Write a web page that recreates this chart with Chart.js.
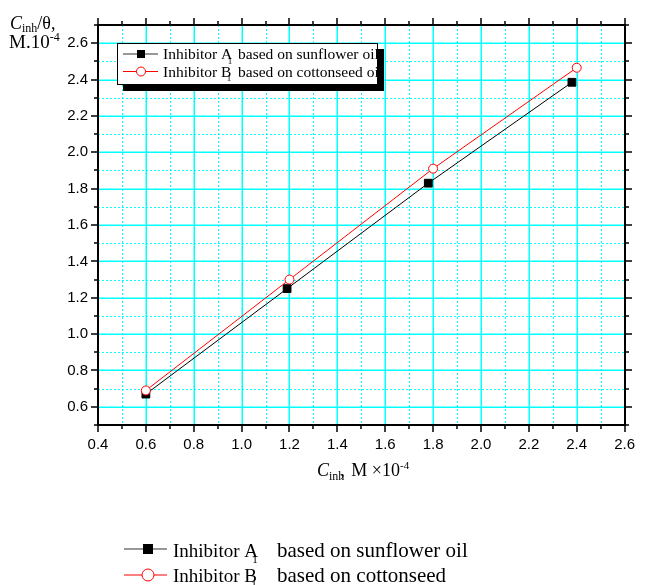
<!DOCTYPE html>
<html><head><meta charset="utf-8">
<script src="https://cdn.jsdelivr.net/npm/chart.js@4.4.0/dist/chart.umd.min.js"></script>
<style>html,body{margin:0;padding:0;background:#fff}#wrap{width:646px;height:585px}</style>
</head><body><div id="wrap"><canvas id="c" width="646" height="585"></canvas></div>
<script>
// values: C_inh (M x10^-4) vs C_inh/theta
const xTicks = [0.4, 0.6, 0.8, 1.0, 1.2, 1.4, 1.6, 1.8, 2.0, 2.2, 2.4, 2.6];
const yTicks = [0.6, 0.8, 1.0, 1.2, 1.4, 1.6, 1.8, 2.0, 2.2, 2.4, 2.6];
const concA = [0.6, 1.19, 1.78, 2.38];
const valA  = [0.67, 1.25, 1.83, 2.385];
const concB = [0.6, 1.2, 1.8, 2.4];
const valB  = [0.69, 1.30, 1.91, 2.465];
const boxTails = ['based on sunflower oil', 'based on cottonseed oil'];
const bottomTails = ['based on sunflower oil', 'based on cottonseed'];
const letters = ['A', 'B'];

const SERIF = 'Liberation Serif', SANS = 'Liberation Sans';

function runs(ctx, x, y, parts){
  for(const p of parts){
    ctx.font = p.f;
    x += (p.dx||0);
    ctx.fillText(p.t, x, y + (p.dy||0));
    x += ctx.measureText(p.t).width;
  }
  return x;
}
function marker(ctx, i, cx, cy, s){
  ctx.save();
  if(i===0){ ctx.fillStyle='#000'; ctx.fillRect(cx-s/2, cy-s/2, s, s); }
  else { ctx.beginPath(); ctx.arc(cx, cy, s/2, 0, Math.PI*2); ctx.fillStyle='#fff'; ctx.fill();
    ctx.strokeStyle='#f00'; ctx.lineWidth=1; ctx.stroke(); }
  ctx.restore();
}
// one legend row: line sample + marker, "Inhibitor X" with a stray subscript 1, then the tail text
function legendRow(ctx, i, o){
  ctx.strokeStyle = i===0 ? '#333' : '#f00'; ctx.lineWidth=1.2;
  ctx.beginPath(); ctx.moveTo(o.x0, o.ly); ctx.lineTo(o.x1, o.ly); ctx.stroke();
  marker(ctx, i, o.mx, o.ly, o.ms);
  ctx.fillStyle='#000';
  ctx.font = o.hs+'px '+SERIF;
  const head = 'Inhibitor '+letters[i];
  ctx.fillText(head, o.tx, o.base);
  const endA = o.tx + ctx.measureText(head).width;
  ctx.font = Math.round(o.hs*0.6)+'px '+SERIF;
  ctx.fillText('1', endA-o.hs*0.3, o.base+o.hs*0.3);
  ctx.font = o.ts+'px '+SERIF;
  ctx.fillText(o.tails[i], o.tailX, o.base);
}

const frame = {
  id:'frame',
  beforeDatasetsDraw(chart){
    const {ctx, chartArea:a, scales:{x, y}} = chart;
    ctx.save();
    ctx.strokeStyle='#00ffff';
    ctx.lineWidth=1; ctx.setLineDash([2,2]);
    for(let k=5;k<=25;k+=2){
      const px=Math.round(x.getPixelForValue(k/10))+0.5;
      ctx.beginPath(); ctx.moveTo(px,a.top); ctx.lineTo(px,a.bottom); ctx.stroke();
    }
    for(let k=7;k<=25;k+=2){
      const py=Math.round(y.getPixelForValue(k/10))+0.5;
      ctx.beginPath(); ctx.moveTo(a.left,py); ctx.lineTo(a.right,py); ctx.stroke();
    }
    ctx.setLineDash([]); ctx.lineWidth=1.5;
    xTicks.slice(1,-1).forEach(v=>{
      const px=Math.round(x.getPixelForValue(v))+0.25;
      ctx.beginPath(); ctx.moveTo(px,a.top); ctx.lineTo(px,a.bottom); ctx.stroke();
    });
    yTicks.forEach(v=>{
      const py=Math.round(y.getPixelForValue(v))+0.25;
      ctx.beginPath(); ctx.moveTo(a.left,py); ctx.lineTo(a.right,py); ctx.stroke();
    });
    ctx.restore();
  },
  afterDatasetsDraw(chart){
    const {ctx, chartArea:a, scales:{x, y}} = chart;
    ctx.save();
    ctx.strokeStyle='#000'; ctx.lineWidth=2;
    const L=Math.round(a.left), R=Math.round(a.right), T=Math.round(a.top), B=Math.round(a.bottom);
    ctx.strokeRect(L, T, R-L, B-T);
    ctx.lineWidth=1.5;
    for(let k=4;k<=26;k++){
      const px=Math.round(x.getPixelForValue(k/10)), len=k%2===0?7:4;
      ctx.beginPath(); ctx.moveTo(px,B); ctx.lineTo(px,B+len); ctx.moveTo(px,T); ctx.lineTo(px,T-len); ctx.stroke();
    }
    for(let k=5;k<=27;k++){
      const py=Math.round(y.getPixelForValue(k/10)), len=k%2===0?7:4;
      ctx.beginPath(); ctx.moveTo(L,py); ctx.lineTo(L-len,py); ctx.moveTo(R,py); ctx.lineTo(R+len,py); ctx.stroke();
    }
    // inset legend with drop shadow
    ctx.fillStyle='#000'; ctx.fillRect(123, 49, 261, 42);
    ctx.fillStyle='#fff'; ctx.fillRect(117, 43, 260, 41);
    ctx.lineWidth=1; ctx.strokeStyle='#000'; ctx.strokeRect(117.5, 43.5, 260, 41);
    ctx.save();
    ctx.beginPath(); ctx.rect(118, 44, 259, 39); ctx.clip();
    const box = {x0:123, x1:158, mx:141, tx:163, hs:15.5, ts:15.5, tailX:238, tails:boxTails};
    legendRow(ctx, 0, Object.assign({ly:54, base:59, ms:8}, box));
    legendRow(ctx, 1, Object.assign({ly:71.5, base:76.5, ms:9}, box));
    ctx.restore();
    ctx.restore();
  },
  afterDraw(chart){
    const ctx = chart.ctx;
    ctx.save();
    ctx.fillStyle='#000'; ctx.textBaseline='alphabetic'; ctx.textAlign='left';
    runs(ctx, 10, 29, [{t:'C',f:'italic 18px '+SERIF},{t:'inh',f:'12px '+SERIF,dy:3},{t:'/θ,',f:'18px '+SERIF}]);
    runs(ctx, 9, 48, [{t:'M.10',f:'19px '+SERIF},{t:'-4',f:'12px '+SERIF,dy:-7}]);
    runs(ctx, 317, 476, [{t:'C',f:'italic 18px '+SERIF},{t:'inh',f:'12px '+SERIF,dy:4},{t:',',f:'18px '+SERIF,dx:-4},{t:' M ×10',f:'18px '+SERIF,dx:2},{t:'-4',f:'11px '+SERIF,dy:-7}]);
    const bot = {x0:124, x1:167, mx:148, tx:173, hs:19, ts:21, tailX:277, tails:bottomTails};
    legendRow(ctx, 0, Object.assign({ly:549, base:557, ms:10}, bot));
    legendRow(ctx, 1, Object.assign({ly:575, base:582, ms:12}, bot));
    ctx.restore();
  }
};

new Chart(document.getElementById('c'), {
  type:'scatter',
  data:{ datasets:[
    { label:'Inhibitor A', data:concA.map((v,i)=>({x:v, y:valA[i]})), showLine:true,
      borderColor:'#000', borderWidth:1, pointStyle:'rect', pointRadius:5.5,
      pointBackgroundColor:'#000', pointBorderColor:'#000', pointBorderWidth:1, order:1 },
    { label:'Inhibitor B', data:concB.map((v,i)=>({x:v, y:valB[i]})), showLine:true,
      borderColor:'#f00', borderWidth:1, pointStyle:'circle', pointRadius:4.5,
      pointBackgroundColor:'#fff', pointBorderColor:'#f00', pointBorderWidth:1, order:0 }
  ]},
  options:{
    responsive:false, animation:false, devicePixelRatio:1,
    layout:{ padding:{ left:0, right:9, top:25, bottom:0 } },
    plugins:{ legend:{display:false}, tooltip:{enabled:false} },
    scales:{
      x:{ type:'linear', min:0.4, max:2.6,
        afterBuildTicks:s=>{ s.ticks = xTicks.map(v=>({value:v})); },
        afterFit:s=>{ s.height = 160; },
        grid:{display:false, drawTicks:false}, border:{display:false},
        ticks:{ padding:11, color:'#000', font:{family:SANS, size:15}, maxRotation:0, autoSkip:false,
          callback:v=>Number(v).toFixed(1) } },
      y:{ type:'linear', min:0.5, max:2.7,
        afterBuildTicks:s=>{ s.ticks = yTicks.map(v=>({value:v})); },
        afterFit:s=>{ s.width = 98; },
        grid:{display:false, drawTicks:false}, border:{display:false},
        ticks:{ padding:10, color:'#000', font:{family:SANS, size:15}, autoSkip:false,
          callback:v=>Number(v).toFixed(1) } }
    }
  },
  plugins:[frame]
});
</script></body></html>
